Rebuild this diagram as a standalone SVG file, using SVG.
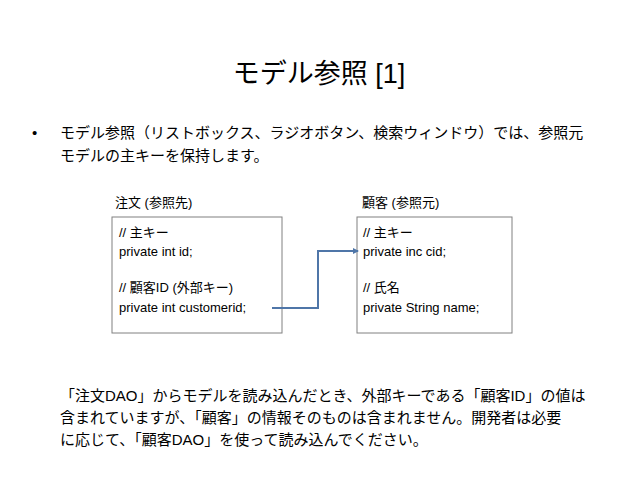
<svg xmlns="http://www.w3.org/2000/svg" width="638" height="479" viewBox="0 0 638 479">
<style>
text{font-family:"Liberation Sans","Noto Sans CJK JP",sans-serif;fill:#000}
.t{font-size:15px}
.c{font-size:13px}
.box{fill:#fff;stroke:#808080;stroke-width:1}
</style>
<defs><marker id="a" markerWidth="6" markerHeight="6" refX="5" refY="3" orient="auto" markerUnits="userSpaceOnUse"><path d="M0,0L6,3L0,6z" fill="#4f76a8"/></marker></defs>
<rect width="638" height="479" fill="#fff"/>
<text x="319" y="83" text-anchor="middle" font-size="27">モデル参照 [1]</text>
<text class="t" x="32" y="138">•</text>
<text class="t" x="60" y="138">モデル参照（リストボックス、ラジオボタン、検索ウィンドウ）では、参照元</text>
<text class="t" x="60" y="161">モデルの主キーを保持します。</text>
<g id="order">
<text class="c" x="115" y="207">注文 (参照先)</text>
<rect class="box" x="112" y="217" width="170" height="116"/>
<text class="c" x="119" y="237">// 主キー</text>
<text class="c" x="119" y="256">private int id;</text>
<text class="c" x="119" y="292">// 顧客ID (外部キー)</text>
<text class="c" x="119" y="312">private int customerid;</text>
</g>
<g id="customer">
<text class="c" x="362" y="207">顧客 (参照元)</text>
<rect class="box" x="357" y="217" width="155" height="116"/>
<text class="c" x="363" y="237">// 主キー</text>
<text class="c" x="363" y="256">private inc cid;</text>
<text class="c" x="363" y="292">// 氏名</text>
<text class="c" x="363" y="312">private String name;</text>
</g>
<g id="connectors">
<path d="M272,308H318V251H358" fill="none" stroke="#4f76a8" stroke-width="2" marker-end="url(#a)"/>
</g>
<text class="t" x="60" y="401">「注文DAO」からモデルを読み込んだとき、外部キーである「顧客ID」の値は</text>
<text class="t" x="60" y="423">含まれていますが、「顧客」の情報そのものは含まれません。開発者は必要</text>
<text class="t" x="60" y="445">に応じて、「顧客DAO」を使って読み込んでください。</text>
</svg>
